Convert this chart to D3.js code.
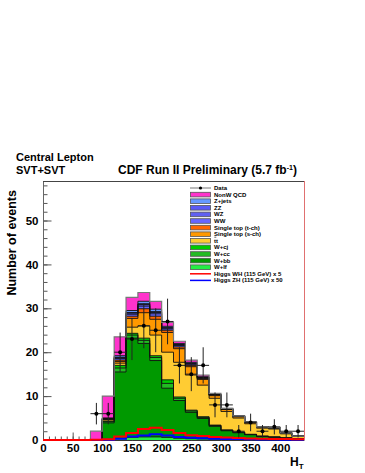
<!DOCTYPE html>
<html>
<head>
<meta charset="utf-8">
<script src="https://cdn.jsdelivr.net/npm/d3@7"></script>
<style>
  html, body { margin: 0; padding: 0; background: #fff; }
  svg { display: block; font-family: "Liberation Sans", Arial, Helvetica, sans-serif; font-weight: bold; }
</style>
</head>
<body>
<svg id="chart" width="365" height="473"></svg>
<script>
// ---- Data (bins of 20 in H_T, lower edges 0..420) ----
const binEdges = [0,20,40,60,80,100,120,140,160,180,200,220,240,260,280,300,320,340,360,380,400,420,440];
const wlf   = [0,0,0,0, 0, 0.1, 0.3, 0.6, 0.7, 0.7, 0.6, 0.4, 0.3, 0.25, 0.2, 0.15, 0.1, 0.1, 0.05, 0.05, 0.03, 0.02];
const wbb   = [0,0,0,0, 0, 3.8, 15.2, 22.6, 21.3, 17.4, 11.2, 8.6, 6.0, 4.65, 2.9, 1.95, 1.55, 1.1, 0.75, 0.6, 0.42, 0.25];
const wcc   = [0,0,0,0, 0, 0.25, 0.9, 0.7, 0.7, 0.7, 1.1, 0.5, 0.3, 0.25, 0.2, 0.12, 0.1, 0.06, 0.06, 0.03, 0.03, 0.02];
const wcj   = [0,0,0,0, 0, 0.15, 0.6, 0.4, 0.5, 0.4, 0.8, 0.3, 0.2, 0.15, 0.1, 0.08, 0.05, 0.04, 0.04, 0.02, 0.02, 0.01];
const ttbar = [0,0,0,0, 0, 0.3, 0.5, 1.4, 2.8, 4.7, 6.3, 7.9, 8.0, 7.2, 6.1, 4.2, 3.2, 2.4, 1.8, 1.8, 0.9, 0.5];
const stopS = [0,0,0,0, 0, 0.1, 0.4, 2.0, 3.0, 3.6, 4.5, 3.1, 1.9, 1.3, 0.6, 0.45, 0.3, 0.25, 0.2, 0.2, 0.1, 0.05];
const stopT = [0,0,0,0, 0, 0.1, 0.3, 0.5, 0.9, 0.7, 0.5, 0.4, 0.3, 0.2, 0.15, 0.1, 0.08, 0.05, 0.04, 0.03, 0.03, 0.02];
const ww    = [0,0,0,0, 0, 0.08, 0.35, 0.45, 0.6, 0.55, 0.3, 0.3, 0.25, 0.15, 0.1, 0.05, 0.04, 0.04, 0.02, 0.03, 0.03, 0.01];
const wz    = [0,0,0,0, 0, 0.03, 0.2, 0.25, 0.35, 0.3, 0.2, 0.15, 0.15, 0.08, 0.05, 0.03, 0.03, 0.02, 0.01, 0.01, 0.01, 0.01];
const zz    = [0,0,0,0, 0, 0.02, 0.1, 0.15, 0.2, 0.2, 0.1, 0.1, 0.1, 0.05, 0.03, 0.02, 0.02, 0.01, 0.01, 0.01, 0.01, 0];
const zjets = [0,0,0,0, 0, 0.07, 0.35, 0.45, 0.55, 0.55, 0.3, 0.25, 0.2, 0.12, 0.07, 0.05, 0.03, 0.03, 0.02, 0.02, 0.02, 0.01];
const qcd   = [0,0,0,0, 2.0, 5.0, 4.3, 3.0, 2.0, 1.8, 0.9, 0.5, 0.5, 0.4, 0.1, 0, 0, 0, 0, 0, 0, 0];
const higgsWH = [0,0,0,0, 0.05, 0.15, 0.8, 1.6, 2.5, 2.8, 2.3, 1.6, 1.1, 0.9, 0.7, 0.55, 0.45, 0.35, 0.3, 0.25, 0.2, 0.15];
const higgsZH = [0,0,0,0, 0.02, 0.05, 0.3, 0.8, 1.0, 1.3, 1.0, 0.7, 0.5, 0.4, 0.3, 0.25, 0.2, 0.15, 0.12, 0.1, 0.08, 0.06];
const dataX = [90,110,130,150,170,190,210,230,250,270,290,310,330,350,370,390,410,430];
const dataY = [6,6,20,23,26,25,27,17,15,17,8,8,2,4,2,3,2,2];
const xTicks = [0,50,100,150,200,250,300,350,400];
const yTicks = [0,10,20,30,40,50];

// stack order bottom -> top
const layers = [
  {name:"W+lf", vals:wlf, color:"#22ee44"},
  {name:"W+bb", vals:wbb, color:"#009900"},
  {name:"W+cc", vals:wcc, color:"#22bb22"},
  {name:"W+cj", vals:wcj, color:"#00cc00"},
  {name:"tt", vals:ttbar, color:"#ffcc33"},
  {name:"Single top (s-ch)", vals:stopS, color:"#ff9900"},
  {name:"Single top (t-ch)", vals:stopT, color:"#ff6600"},
  {name:"WW", vals:ww, color:"#6666ff"},
  {name:"WZ", vals:wz, color:"#6060f0"},
  {name:"ZZ", vals:zz, color:"#5a5af5"},
  {name:"Z+jets", vals:zjets, color:"#6699ff"},
  {name:"NonW QCD", vals:qcd, color:"#ff33cc"}
];

const svg = d3.select("#chart");
const x = d3.scaleLinear().domain([0,440]).range([43,304]);
const y = d3.scaleLinear().domain([0,59]).range([440,181]);

// cumulative
const nb = binEdges.length - 1;
let base = new Array(nb).fill(0);
layers.forEach(L => {
  L.lo = base.slice();
  L.hi = base.map((b,i) => b + L.vals[i]);
  base = L.hi;
});

function stepPts(arr) {
  const pts = [];
  for (let i = 0; i < nb; i++) {
    pts.push([binEdges[i], arr[i]]);
    pts.push([binEdges[i+1], arr[i]]);
  }
  return pts;
}
const line = d3.line().x(d => x(d[0])).y(d => y(d[1]));

// axes (drawn first, plot on top)
const yMinor = d3.range(0, 59, 2);
const xMinor = d3.range(0, 441, 10);
const fontAttrs = sel => sel.attr("font-size","11.5px").attr("font-weight","bold").attr("font-family","Liberation Sans, Arial, sans-serif").attr("fill","#000");
svg.append("g").attr("transform","translate(43.5,0)")
  .call(d3.axisLeft(y).tickValues(yMinor).tickSizeInner(-4).tickSizeOuter(0).tickFormat(""))
  .call(a => a.select(".domain").remove())
  .selectAll("line").attr("stroke","#555");
svg.append("g").attr("transform","translate(43.5,0)")
  .call(d3.axisLeft(y).tickValues(yTicks).tickSizeInner(-8).tickSizeOuter(0).tickPadding(5).tickFormat(d3.format("d")))
  .call(a => a.select(".domain").attr("stroke","#666").attr("d","M0,181V440"))
  .call(a => a.selectAll("line").attr("stroke","#555"))
  .call(a => fontAttrs(a.selectAll("text")));
svg.append("g").attr("transform","translate(0,440.5)")
  .call(d3.axisBottom(x).tickValues(xMinor).tickSizeInner(-4).tickSizeOuter(0).tickFormat(""))
  .call(a => a.select(".domain").remove())
  .selectAll("line").attr("stroke","#555");
svg.append("g").attr("transform","translate(0,440.5)")
  .call(d3.axisBottom(x).tickValues(xTicks).tickSizeInner(-8).tickSizeOuter(0).tickPadding(3).tickFormat(d3.format("d")))
  .call(a => a.select(".domain").attr("stroke","#333").attr("d","M43,0H304"))
  .call(a => a.selectAll("line").attr("stroke","#555"))
  .call(a => fontAttrs(a.selectAll("text")));

// draw fills (top layer down: fill from 0 to cumulative)
const g = svg.append("g");
for (let k = layers.length - 1; k >= 0; k--) {
  const L = layers[k];
  const pts = stepPts(L.hi);
  const area = d3.area().x(d => x(d[0])).y0(y(0)).y1(d => y(d[1]));
  g.append("path").attr("d", area(pts)).attr("fill", L.color).attr("stroke", "none");
}
// outlines
layers.forEach((L, k) => {
  g.append("path").attr("d", line(stepPts(L.hi)))
    .attr("fill", "none")
    .attr("stroke", k === layers.length - 1 ? "#777" : "#111")
    .attr("stroke-width", k === layers.length - 1 ? 1.2 : 0.9);
});

// Higgs lines
g.append("path").attr("d", line(stepPts(higgsZH))).attr("fill","none").attr("stroke","#0000ff").attr("stroke-width",2);
g.append("path").attr("d", line(stepPts(higgsWH))).attr("fill","none").attr("stroke","#ff0000").attr("stroke-width",2);

// data points
const dg = svg.append("g");
dataX.forEach((dx, i) => {
  const v = dataY[i], e = Math.sqrt(v);
  dg.append("line").attr("x1", x(dx-10)).attr("x2", x(dx+10)).attr("y1", y(v)).attr("y2", y(v)).attr("stroke","#222").attr("stroke-width",1);
  dg.append("line").attr("x1", x(dx)).attr("x2", x(dx)).attr("y1", y(v-e)).attr("y2", y(v+e)).attr("stroke","#222").attr("stroke-width",1);
  dg.append("circle").attr("cx", x(dx)).attr("cy", y(v)).attr("r", 2).attr("fill","#000");
});

// frame
svg.append("line").attr("x1",43).attr("x2",304).attr("y1",181.5).attr("y2",181.5).attr("stroke","#444").attr("stroke-width",1);
svg.append("line").attr("x1",304.5).attr("x2",304.5).attr("y1",181).attr("y2",440).attr("stroke","#e07070").attr("stroke-width",1);

// titles
svg.append("text").attr("x",16).attr("y",161).attr("font-size","11px").text("Central Lepton");
svg.append("text").attr("x",16).attr("y",174).attr("font-size","11px").text("SVT+SVT");
const t = svg.append("text").attr("x",118).attr("y",174).attr("font-size","12px");
t.append("tspan").text("CDF Run II Preliminary (5.7 fb");
t.append("tspan").attr("dy",-4).attr("font-size","7px").text("-1");
t.append("tspan").attr("dy",4).text(")");

svg.append("text").attr("transform","translate(16,190) rotate(-90)").attr("text-anchor","end").attr("font-size","12.5px").text("Number of events");
const ht = svg.append("text").attr("x",290).attr("y",466).attr("font-size","12px");
ht.append("tspan").text("H");
ht.append("tspan").attr("dy",3).attr("font-size","8px").text("T");

// legend
const legItems = [
  {name:"Data", type:"data"},
  {name:"NonW QCD", type:"box", color:"#ff33cc"},
  {name:"Z+jets", type:"box", color:"#6699ff"},
  {name:"ZZ", type:"box", color:"#5a5af5"},
  {name:"WZ", type:"box", color:"#6060f0"},
  {name:"WW", type:"box", color:"#6666ff"},
  {name:"Single top (t-ch)", type:"box", color:"#ff6600"},
  {name:"Single top (s-ch)", type:"box", color:"#ff9900"},
  {name:"tt", type:"box", color:"#ffcc33", bar:true},
  {name:"W+cj", type:"box", color:"#00cc00"},
  {name:"W+cc", type:"box", color:"#22bb22"},
  {name:"W+bb", type:"box", color:"#009900"},
  {name:"W+lf", type:"box", color:"#22ee44"},
  {name:"Higgs WH (115 GeV) x 5", type:"line", color:"#ff0000"},
  {name:"Higgs ZH (115 GeV) x 50", type:"line", color:"#0000ff"}
];
const lg = svg.append("g");
legItems.forEach((it, i) => {
  const cy = 188 + i * 6.6;
  if (it.type === "data") {
    lg.append("line").attr("x1",190).attr("x2",211).attr("y1",cy).attr("y2",cy).attr("stroke","#777").attr("stroke-width",1);
    lg.append("circle").attr("cx",200.5).attr("cy",cy).attr("r",1.6).attr("fill","#000");
  } else if (it.type === "box") {
    lg.append("rect").attr("x",190.5).attr("y",cy-2.3).attr("width",20).attr("height",4.6).attr("fill",it.color).attr("stroke","#555").attr("stroke-width",0.8);
  } else {
    lg.append("line").attr("x1",190).attr("x2",211).attr("y1",cy).attr("y2",cy).attr("stroke",it.color).attr("stroke-width",1.5);
  }
  lg.append("text").attr("x",214).attr("y",cy+2).attr("font-size","6px").text(it.name);
  if (it.bar) {
    lg.append("line").attr("x1",214.3).attr("x2",216.3).attr("y1",cy-3.6).attr("y2",cy-3.6).attr("stroke","#000").attr("stroke-width",0.6);
  }
});
</script>
</body>
</html>
